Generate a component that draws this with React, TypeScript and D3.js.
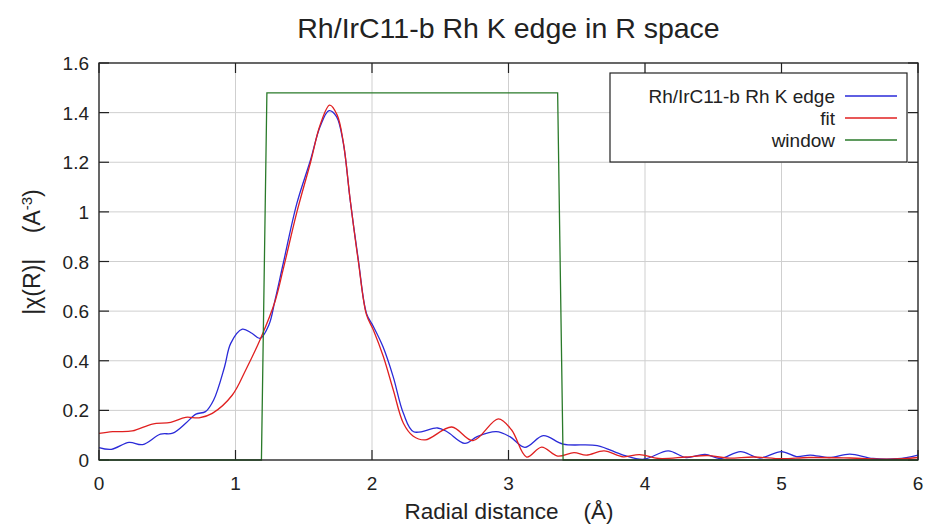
import React from "react";
import * as d3 from "d3";

// |chi(R)| data, R in Å
const dataR = [0, 0.09, 0.22, 0.32, 0.45, 0.54, 0.635, 0.71, 0.78, 0.84, 0.92, 0.965, 1.05, 1.12, 1.18, 1.245, 1.29, 1.35, 1.45, 1.55, 1.62, 1.685, 1.74, 1.79, 1.84, 1.9, 1.96, 2.01, 2.08, 2.155, 2.23, 2.305, 2.48, 2.55, 2.68, 2.77, 2.91, 3.01, 3.12, 3.255, 3.4, 3.65, 3.84, 3.99, 4.17, 4.3, 4.44, 4.55, 4.7, 4.84, 5.0, 5.11, 5.21, 5.35, 5.5, 5.67, 5.85, 6.0];
const dataChi = [0.05, 0.043, 0.071, 0.062, 0.104, 0.108, 0.148, 0.185, 0.195, 0.242, 0.376, 0.47, 0.527, 0.511, 0.49, 0.545, 0.645, 0.793, 1.035, 1.21, 1.344, 1.408, 1.384, 1.277, 1.048, 0.806, 0.59, 0.538, 0.457, 0.336, 0.188, 0.114, 0.129, 0.114, 0.067, 0.094, 0.114, 0.094, 0.051, 0.098, 0.064, 0.058, 0.02, 0.003, 0.037, 0.01, 0.023, 0.006, 0.034, 0.008, 0.034, 0.014, 0.02, 0.01, 0.024, 0.006, 0.005, 0.02];

// fit curve
const fitR = [0, 0.1, 0.244, 0.39, 0.525, 0.635, 0.733, 0.83, 0.977, 1.075, 1.184, 1.29, 1.35, 1.45, 1.55, 1.62, 1.69, 1.745, 1.79, 1.84, 1.9, 1.96, 2.01, 2.083, 2.156, 2.23, 2.3, 2.39, 2.584, 2.74, 2.925, 3.023, 3.133, 3.243, 3.36, 3.48, 3.57, 3.7, 3.84, 3.96, 4.1, 4.3, 4.46, 4.6, 4.8, 5.0, 5.2, 5.5, 5.8, 6.0];
const fitChi = [0.107, 0.114, 0.117, 0.145, 0.152, 0.172, 0.17, 0.188, 0.262, 0.363, 0.49, 0.64, 0.77, 1.0, 1.2, 1.35, 1.43, 1.39, 1.28, 1.05, 0.8, 0.585, 0.524, 0.417, 0.282, 0.148, 0.097, 0.081, 0.133, 0.078, 0.166, 0.121, 0.012, 0.052, 0.016, 0.03, 0.02, 0.037, 0.013, 0.022, 0.006, 0.012, 0.018, 0.008, 0.012, 0.005, 0.01, 0.008, 0.003, 0.01];

// Fourier transform window
const winR = [0, 1.19, 1.23, 3.36, 3.4, 6];
const winVal = [0, 0, 1.48, 1.48, 0, 0];

const xTicks = [0, 1, 2, 3, 4, 5, 6];
const yTicks = [0, 0.2, 0.4, 0.6, 0.8, 1, 1.2, 1.4, 1.6];

const legendItems = [
  { label: "Rh/IrC11-b Rh K edge", color: "#2a2ad8" },
  { label: "fit", color: "#e02020" },
  { label: "window", color: "#2a7a2a" },
];

export default function App() {
  const W = 927;
  const H = 526;
  const left = 99;
  const right = 918;
  const top = 63;
  const bottom = 460;
  const x = d3.scaleLinear().domain([0, 6]).range([left, right]);
  const y = d3.scaleLinear().domain([0, 1.6]).range([bottom, top]);

  const smooth = d3
    .line<[number, number]>()
    .x((d) => x(d[0]))
    .y((d) => y(d[1]))
    .curve(d3.curveCatmullRom.alpha(0.5));
  const straight = d3
    .line<[number, number]>()
    .x((d) => x(d[0]))
    .y((d) => y(d[1]));

  const dataPts = dataR.map((r, i) => [r, dataChi[i]] as [number, number]);
  const fitPts = fitR.map((r, i) => [r, fitChi[i]] as [number, number]);
  const winPts = winR.map((r, i) => [r, winVal[i]] as [number, number]);

  const font = "Arial, 'Liberation Sans', sans-serif";
  const tickLen = 10;

  return (
    <svg
      width={W}
      height={H}
      style={{ position: "absolute", left: 0, top: 0, background: "#fff" }}
      fontFamily={font}
    >
      <rect x={0} y={0} width={W} height={H} fill="#fff" />
      <text x={(left + right) / 2} y={38} textAnchor="middle" fontSize={28.5} fill="#222">
        Rh/IrC11-b Rh K edge in R space
      </text>

      {/* grid */}
      {xTicks.map((t) => (
        <line key={"gx" + t} x1={x(t)} x2={x(t)} y1={top} y2={bottom} stroke="#cfcfcf" strokeWidth={1} />
      ))}
      {yTicks.map((t) => (
        <line key={"gy" + t} x1={left} x2={right} y1={y(t)} y2={y(t)} stroke="#cfcfcf" strokeWidth={1} />
      ))}

      {/* ticks, mirrored on all sides */}
      {xTicks.map((t) => (
        <g key={"tx" + t} stroke="#222" strokeWidth={1.2}>
          <line x1={x(t)} x2={x(t)} y1={bottom} y2={bottom - tickLen} />
          <line x1={x(t)} x2={x(t)} y1={top} y2={top + tickLen} />
        </g>
      ))}
      {yTicks.map((t) => (
        <g key={"ty" + t} stroke="#222" strokeWidth={1.2}>
          <line x1={left} x2={left + tickLen} y1={y(t)} y2={y(t)} />
          <line x1={right} x2={right - tickLen} y1={y(t)} y2={y(t)} />
        </g>
      ))}

      {/* tick labels */}
      {xTicks.map((t) => (
        <text key={"lx" + t} x={x(t)} y={bottom + 30} textAnchor="middle" fontSize={19} fill="#222">
          {d3.format("~g")(t)}
        </text>
      ))}
      {yTicks.map((t) => (
        <text key={"ly" + t} x={left - 10} y={y(t) + 7} textAnchor="end" fontSize={19} fill="#222">
          {d3.format("~g")(t)}
        </text>
      ))}

      {/* curves */}
      <path d={smooth(dataPts) ?? ""} fill="none" stroke="#2a2ad8" strokeWidth={1.3} />
      <path d={smooth(fitPts) ?? ""} fill="none" stroke="#e02020" strokeWidth={1.3} />
      <path d={straight(winPts) ?? ""} fill="none" stroke="#2a7a2a" strokeWidth={1.3} />

      {/* frame */}
      <rect x={left} y={top} width={right - left} height={bottom - top} fill="none" stroke="#222" strokeWidth={1.3} />

      {/* legend */}
      <rect x={610} y={73} width={297} height={89} fill="#fff" stroke="#222" strokeWidth={1.2} />
      {legendItems.map((it, i) => (
        <g key={it.label}>
          <text x={835} y={103 + i * 22} textAnchor="end" fontSize={19} fill="#222">
            {it.label}
          </text>
          <line x1={845} x2={897} y1={96 + i * 22} y2={96 + i * 22} stroke={it.color} strokeWidth={1.3} />
        </g>
      ))}

      {/* axis titles */}
      <text x={509} y={519} textAnchor="middle" fontSize={22.5} fill="#222" xmlSpace="preserve">
        {"Radial distance    (Å)"}
      </text>
      <text
        transform={`translate(40, ${252}) rotate(-90)`}
        textAnchor="middle"
        fontSize={23}
        fill="#222"
        xmlSpace="preserve"
      >
        {"|χ(R)|    (A"}
        <tspan dy={-8} fontSize={15}>-3</tspan>
        <tspan dy={8}>)</tspan>
      </text>
    </svg>
  );
}
